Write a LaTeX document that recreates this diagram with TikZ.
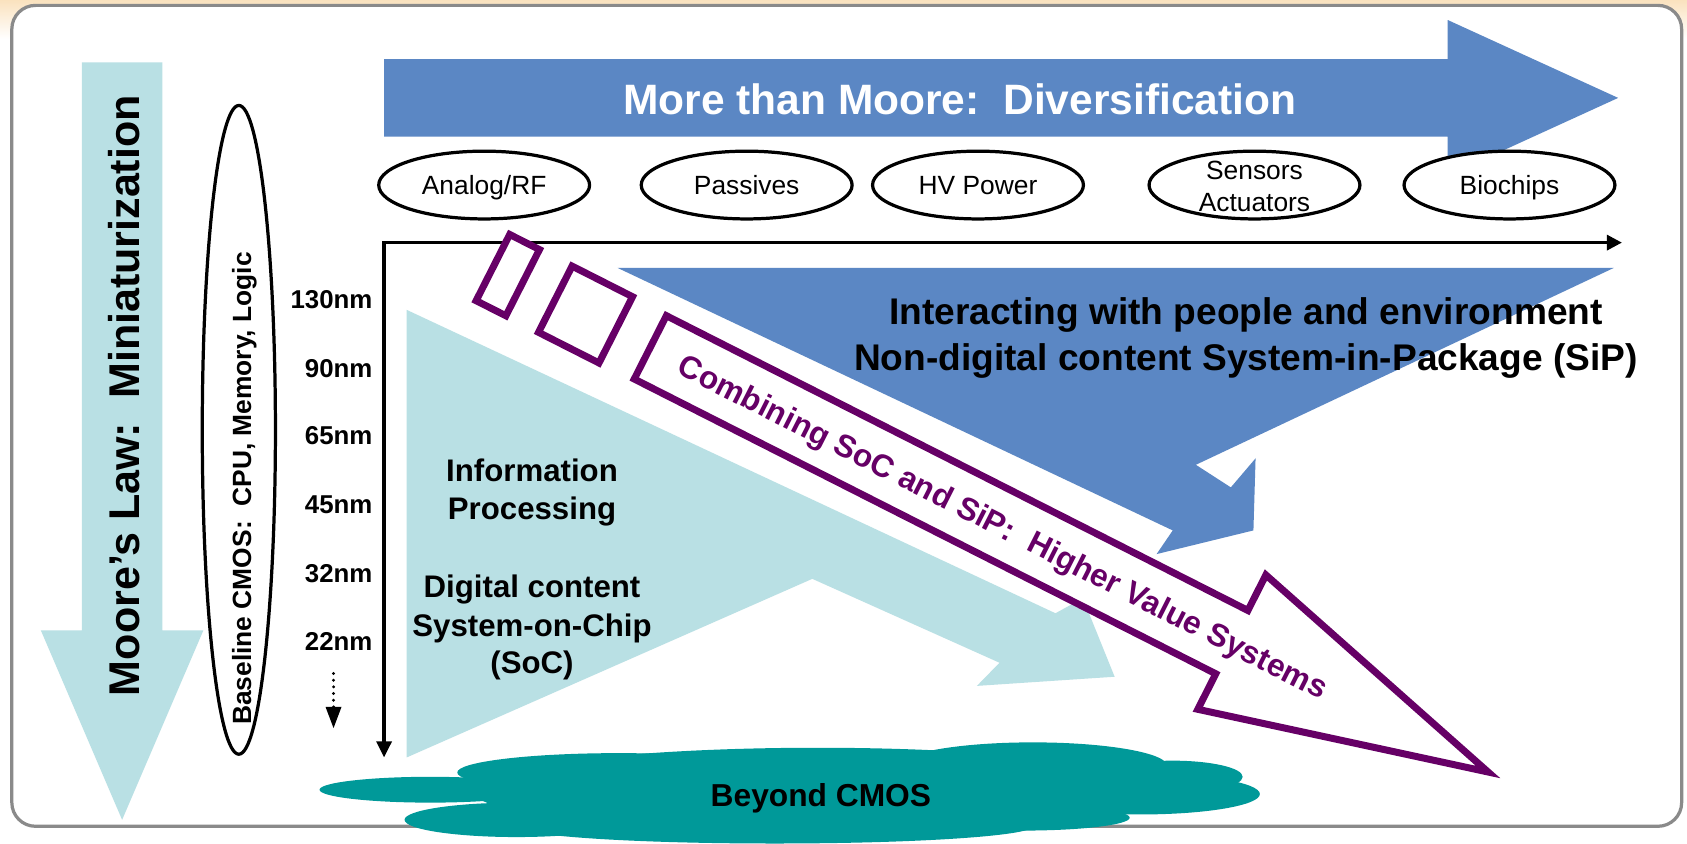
\documentclass[tikz,border=0pt]{standalone}
\usepackage{fontspec}
\setmainfont{Liberation Sans}
\usetikzlibrary{arrows.meta,shapes.geometric}
\definecolor{soc}{HTML}{B9E0E4}
\definecolor{mtm}{HTML}{5B87C4}
\definecolor{pur}{HTML}{660066}
\definecolor{cloudc}{HTML}{009999}
\definecolor{framec}{HTML}{8A8A8A}
\definecolor{cream}{HTML}{FAE2BE}
\begin{document}
\begin{tikzpicture}[x=1pt,y=-1pt,
  bubble/.style={ellipse, draw=black, line width=3pt, fill=white, minimum width=196pt, minimum height=63pt, inner sep=0pt},
  bubtxt/.style={font=\fontsize{24.5}{29}\selectfont, inner sep=0pt, anchor=base},
  nmlab/.style={font=\bfseries\fontsize{24}{29}\selectfont, inner sep=0pt, anchor=east},
  soctxt/.style={font=\bfseries\fontsize{29}{35}\selectfont, inner sep=0pt, anchor=base},
  siptxt/.style={font=\bfseries\fontsize{34.5}{42}\selectfont, inner sep=0pt, anchor=base},
  purbox/.style={draw=pur, line width=6.5pt, fill=white, line join=miter},
  axisline/.style={line width=3pt},
]
\useasboundingbox (0,0) rectangle (1568,784);
\fill[white] (0,0) rectangle (1568,784);
\shade[top color=cream, bottom color=white] (0,0) rectangle (1568,36);
% frame
\draw[framec, line width=3pt, fill=white, rounded corners=22pt] (11,5) rectangle (1563,768);

% Moore's law arrow
\fill[soc] (76,58) -- (151,58) -- (151,586) -- (189,586) -- (113.5,762) -- (38,586) -- (76,586) -- cycle;
\node[rotate=90, anchor=base, inner sep=0pt, font=\bfseries\fontsize{40}{48}\selectfont] (mooreT) at (129.7,367.7) {Moore’s Law:\ \ Miniaturization};

% baseline CMOS ellipse
\node[draw, ellipse, line width=3pt, minimum width=68pt, minimum height=603pt, inner sep=0pt] (baseE) at (222,399.5) {};
\node[rotate=90, anchor=base, inner sep=0pt, font=\bfseries\fontsize{24.5}{29}\selectfont] (baseT) at (233.3,454) {Baseline CMOS:\ \ CPU, Memory, Logic};

% More than Moore arrow
\fill[mtm] (357,55) -- (1345.6,55) -- (1345.6,18.6) -- (1504,91) -- (1345.6,163.4) -- (1345.6,127) -- (357,127) -- cycle;
\node[anchor=base, inner sep=0pt, text=white, font=\bfseries\fontsize{39.5}{47}\selectfont] (mtmT) at (892,106) {More than Moore:\ \ Diversification};

% ellipses
\node[bubble] (analog) at (450,172) {};
\node[bubtxt] (analogT) at (450,180.8) {Analog/RF};
\node[bubble] (passives) at (694,172) {};
\node[bubtxt] (passivesT) at (694,180.8) {Passives};
\node[bubble] (hvpower) at (909,172) {};
\node[bubtxt] (hvpowerT) at (909,180.8) {HV Power};
\node[bubble] (sensors) at (1166,172) {};
\node[bubtxt] (sensorsT) at (1166,166.6) {Sensors};
\node[bubtxt] (actuatorsT) at (1166,196.2) {Actuators};
\node[bubble] (biochips) at (1403,172) {};
\node[bubtxt] (biochipsT) at (1403,180.8) {Biochips};

% axes
\coordinate (vb) at (357,704);
\coordinate (org) at (357,225.5);
\coordinate (he) at (1507.5,225.5);
\draw[axisline, {Triangle[length=15pt,width=14pt]}-{Triangle[length=14pt,width=14pt]}] (vb) -- (org) -- (he);

% node labels
\node[nmlab] (n130) at (346.3,278.8) {130nm};
\node[nmlab] (n90) at (346.3,342.3) {90nm};
\node[nmlab] (n65) at (346.3,405.2) {65nm};
\node[nmlab] (n45) at (346.3,469.3) {45nm};
\node[nmlab] (n32) at (346.3,532.8) {32nm};
\node[nmlab] (n22) at (346.3,596.3) {22nm};
\coordinate (ds) at (310,626);
\coordinate (de) at (310,677);
\draw[line width=3pt, line cap=round, dash pattern=on 0pt off 6.2pt, -{Triangle[length=20pt,width=14pt]}] (ds) -- (de);

% SoC shape
\fill[soc] (378,288) -- (981,570) -- (1006.5,556) -- (1036,629) -- (908,637.5) -- (929,616) -- (755,538) -- (378,704) -- cycle;
% SiP shape
\fill[mtm] (574,249) -- (1500,249) -- (1111.5,432) -- (1144,453) -- (1167,426) -- (1165,493) -- (1075,515) -- (1090,493) -- cycle;

% texts
\node[soctxt] (infoT1) at (494.5,447.9) {Information};
\node[soctxt] (infoT2) at (494.5,482.8) {Processing};
\node[soctxt] (digT1) at (494.5,555) {Digital content};
\node[soctxt] (digT2) at (494.5,591.3) {System-on-Chip};
\node[soctxt] (digT3) at (494.5,626.3) {(SoC)};
\node[siptxt] (sipT1) at (1158,302) {Interacting with people and environment};
\node[siptxt] (sipT2) at (1158,344) {Non-digital content System-in-Package (SiP)};

% purple combining arrow
\begin{scope}[shift={(601.75,321.5)}, rotate=-26.88]
  \draw[purbox] (-161,-34.5) rectangle (-130,34.5);
  \draw[purbox] (-96,-34.5) rectangle (-33,34.5);
  \draw[purbox] (3,-33) -- (609,-33) -- (609,-70) -- (876,0) -- (609,70) -- (609,33) -- (3,33) -- cycle;
  \node[rotate=-26.88, anchor=base, inner sep=0pt, text=pur, font=\bfseries\fontsize{29.5}{35}\selectfont] (combT) at (371,10.5) {Combining SoC and SiP:\ \ Higher Value Systems};
\end{scope}

% Beyond CMOS cloud
\fill[cloudc] (400,734) ellipse [x radius=103pt, y radius=12pt];
\fill[cloudc] (480,762) ellipse [x radius=104pt, y radius=16pt];
\fill[cloudc] (575,718) ellipse [x radius=150pt, y radius=18pt];
\fill[cloudc] (760,735) ellipse [x radius=320pt, y radius=40pt];
\fill[cloudc] (720,768) ellipse [x radius=240pt, y radius=16pt];
\fill[cloudc] (960,712) ellipse [x radius=125pt, y radius=22pt];
\fill[cloudc] (1090,722) ellipse [x radius=65pt, y radius=15pt];
\fill[cloudc] (1060,738) ellipse [x radius=111pt, y radius=19pt];
\fill[cloudc] (950,760) ellipse [x radius=100pt, y radius=12pt];
\node[anchor=base, inner sep=0pt, font=\bfseries\fontsize{29.5}{35}\selectfont] (beyondT) at (763,749.7) {Beyond CMOS};
\end{tikzpicture}
\end{document}
